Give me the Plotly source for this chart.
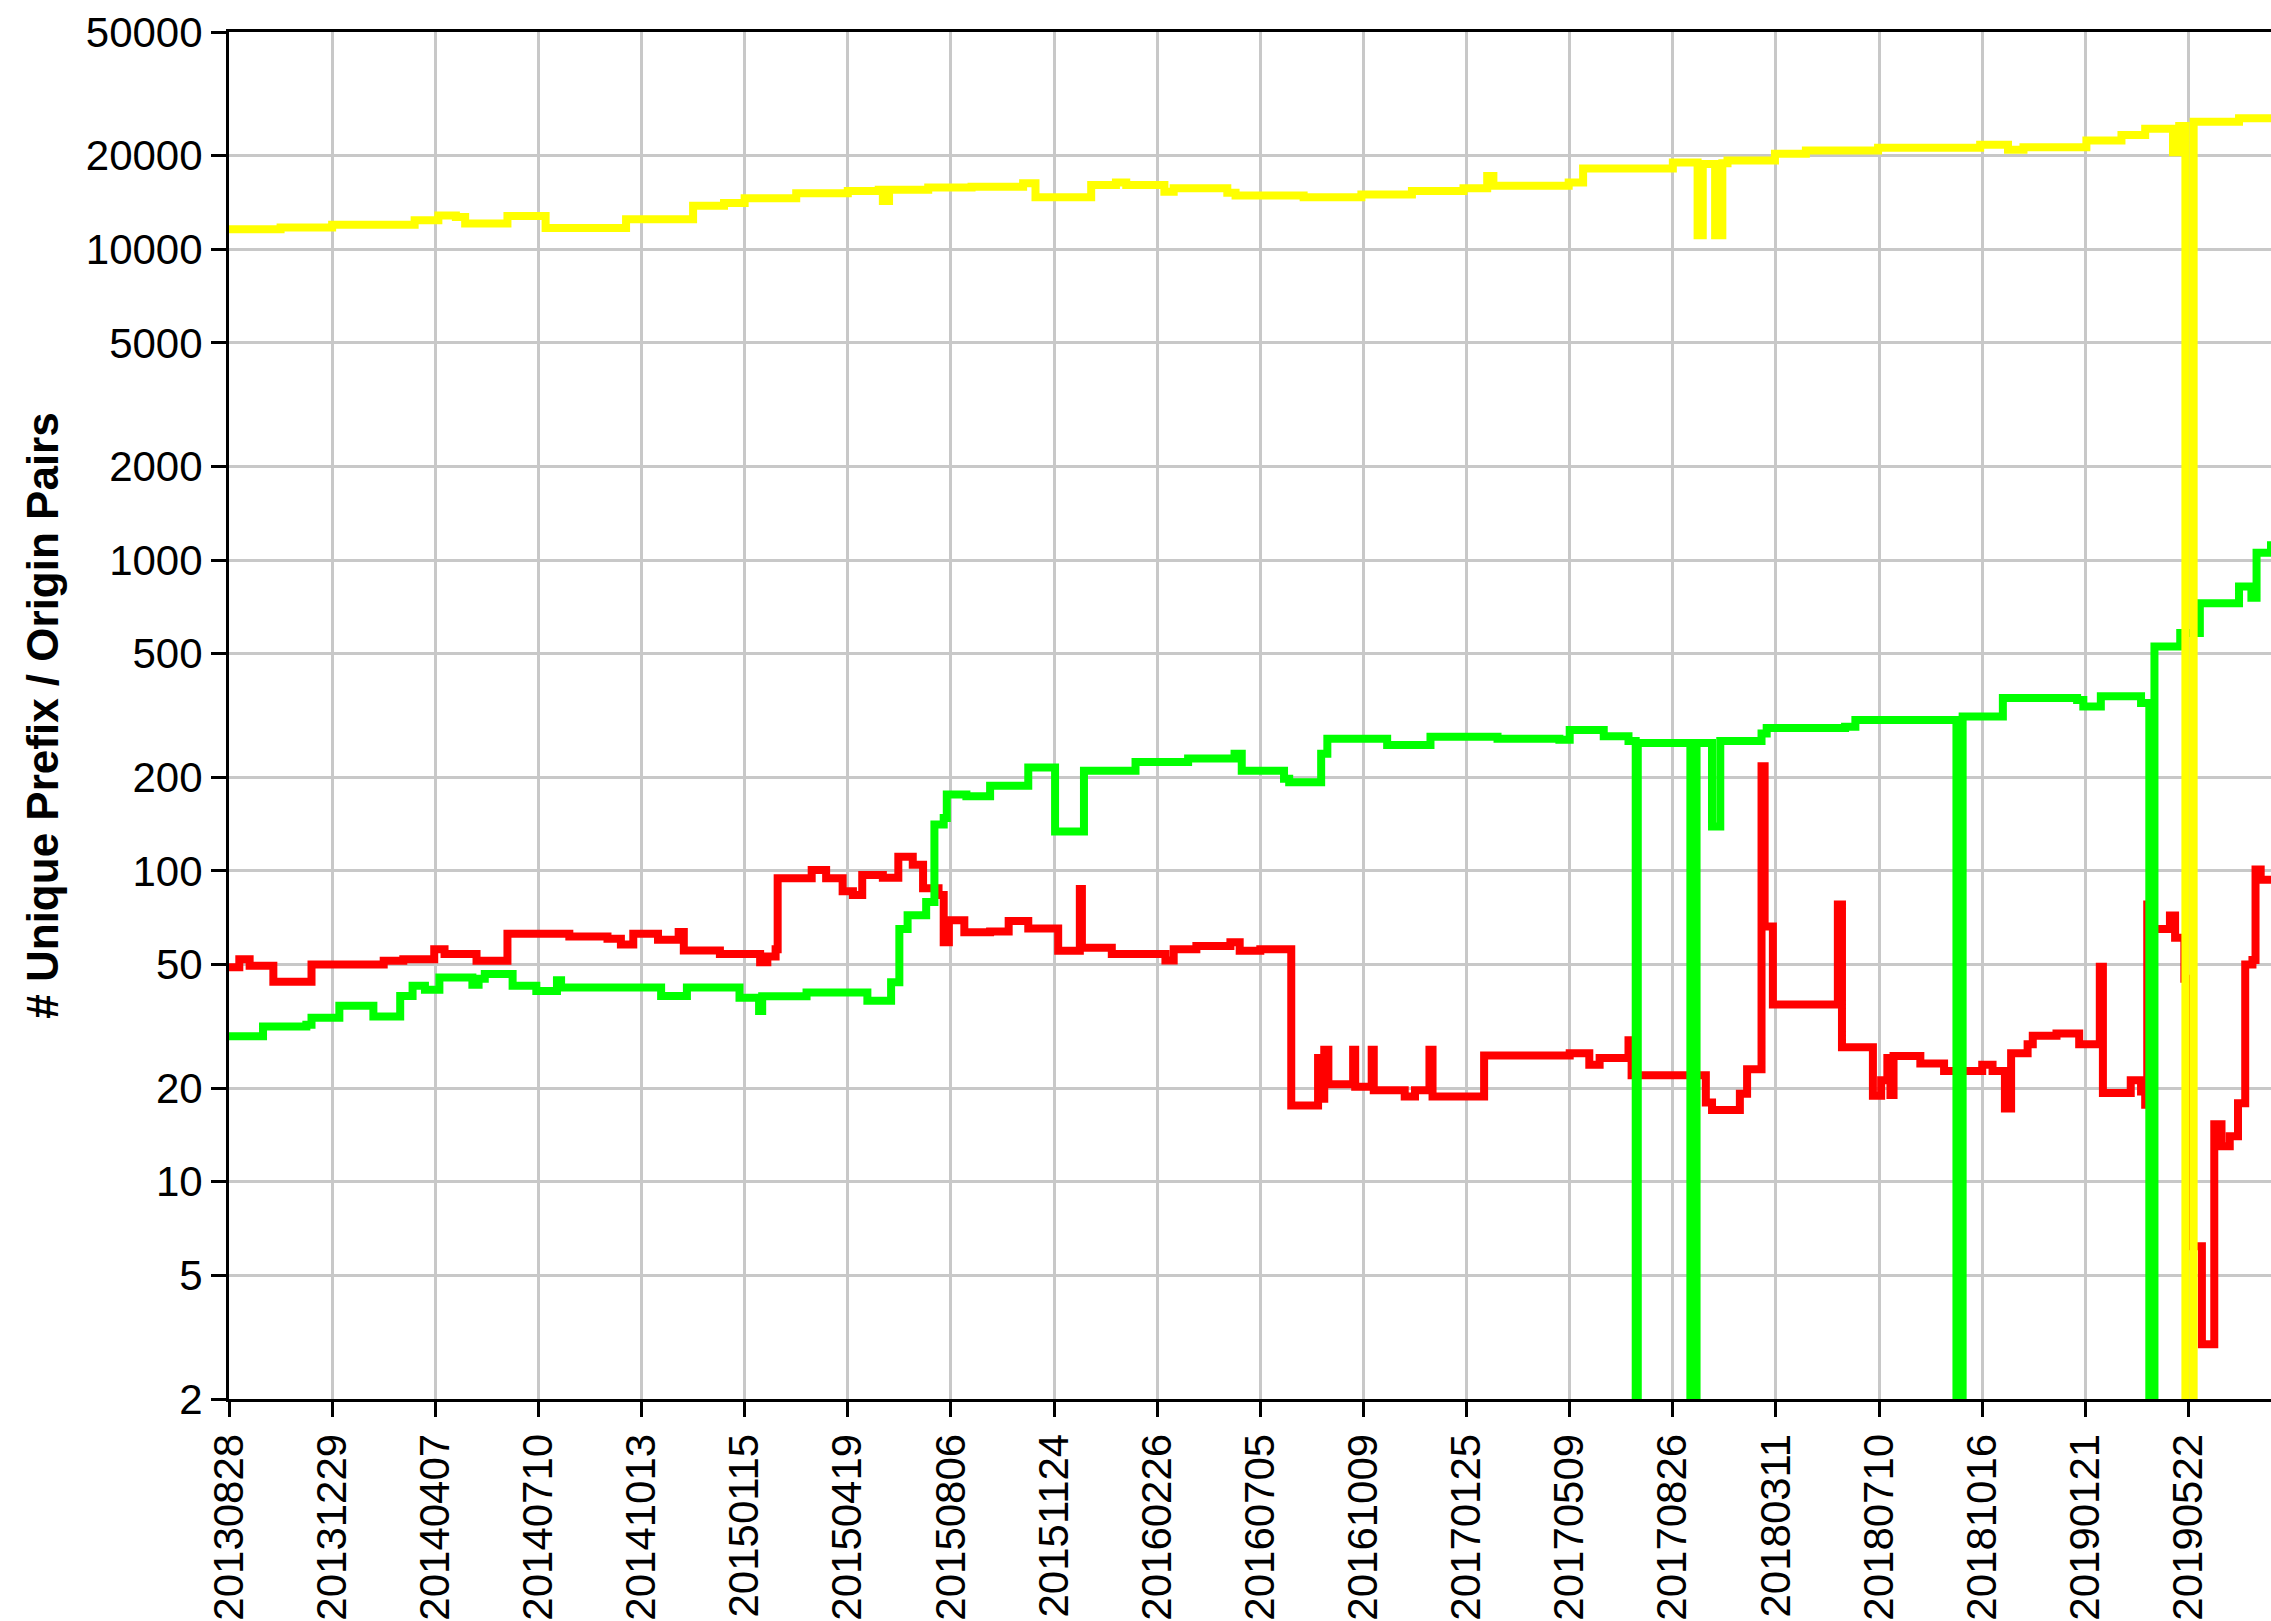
import math

import plotly.graph_objects as go

# x = sample index (one point per daily snapshot), ticks every 100 samples
tick_idx = [0, 100, 200, 300, 400, 500, 600, 700, 800, 900,
            1000, 1100, 1200, 1300, 1400, 1500, 1600, 1700, 1800, 1900]
tick_dates = ["20130828", "20131229", "20140407", "20140710", "20141013",
              "20150115", "20150419", "20150806", "20151124", "20160226",
              "20160705", "20161009", "20170125", "20170509", "20170826",
              "20180311", "20180710", "20181016", "20190121", "20190522"]

y_ticks = [2, 5, 10, 20, 50, 100, 200, 500, 1000, 2000, 5000, 10000, 20000, 50000]

# value 1 = dropped to zero (below the axis floor)
yellow_x = [0, 50, 100, 180, 203, 220, 229, 270, 307, 385, 450, 480, 500, 550,
            600, 630, 634, 640, 678, 720, 770, 782, 836, 860, 870, 907, 916,
            968, 976, 1042, 1098, 1147, 1197, 1220, 1226, 1299, 1313, 1400,
            1424, 1429, 1441, 1448, 1453, 1499, 1529, 1599, 1698, 1725, 1740,
            1801, 1835, 1858, 1885, 1891, 1897, 1905, 1949, 1980]
yellow_y = [11600, 11750, 12000, 12400, 12850, 12700, 12100, 12800, 11700,
            12500, 13800, 14100, 14600, 15150, 15400, 15550, 14300, 15550,
            15800, 15900, 16300, 14700, 16100, 16400, 16100, 15300, 15700,
            15200, 14900, 14700, 15000, 15400, 15700, 17200, 16000, 16400,
            18200, 19000, 11100, 18800, 11100, 18900, 19300, 20300, 20800,
            21200, 21700, 20900, 21300, 22400, 23300, 24400, 20500, 24900,
            1, 25700, 26400, 26800]

green_x = [0, 33, 75, 80, 107, 140, 166, 178, 190, 204, 236, 242, 248, 275,
           298, 318, 322, 419, 444, 495, 514, 517, 560, 619, 642, 650, 658,
           676, 684, 693, 696, 715, 738, 775, 801, 829, 879, 930, 975, 982,
           1023, 1028, 1059, 1065, 1123, 1165, 1230, 1290, 1300, 1333, 1357,
           1364, 1366, 1417, 1423, 1438, 1446, 1486, 1491, 1567, 1577, 1675,
           1681, 1720, 1792, 1798, 1815, 1854, 1862, 1867, 1892, 1911, 1949,
           1961, 1966, 1980]
green_y = [29.4, 31.6, 32, 33.7, 36.8, 34, 39.6, 42.7, 41.5, 45.4, 43, 45,
           46.6, 42.7, 41.1, 44.5, 42.2, 39.6, 42.2, 39.1, 35.4, 39.5, 40.6,
           38.2, 43.8, 65, 72, 79.5, 141, 148, 176, 174, 188, 215, 134, 210,
           224, 230, 238, 210, 198, 193, 238, 266, 254, 270, 266, 264, 284,
           271, 262, 1, 258, 1, 258, 139, 262, 277, 288, 291, 306, 1, 314,
           360, 355, 338, 365, 347, 1, 527, 583, 727, 823, 756, 1056, 1150]

red_x = [0, 10, 20, 43, 80, 150, 169, 199, 209, 240, 270, 330, 367, 380, 392,
         416, 436, 441, 476, 515, 522, 530, 532, 565, 579, 595, 605, 614, 634,
         649, 663, 673, 688, 693, 698, 713, 738, 756, 775, 804, 825, 827, 856,
         908, 916, 938, 971, 980, 1000, 1030, 1056, 1058, 1062, 1066, 1090,
         1092, 1108, 1110, 1140, 1150, 1164, 1167, 1217, 1300, 1319, 1329,
         1357, 1360, 1432, 1438, 1465, 1472, 1486, 1489, 1497, 1560, 1564,
         1594, 1602, 1608, 1611, 1614, 1640, 1663, 1700, 1710, 1722, 1728,
         1744, 1749, 1772, 1794, 1814, 1817, 1844, 1854, 1858, 1860, 1862,
         1882, 1887, 1896, 1902, 1913, 1925, 1932, 1940, 1948, 1955, 1962,
         1965, 1970, 1980]
red_y = [49, 52, 49.5, 44, 50, 51.4, 52, 56, 54, 51.4, 62.8, 61.5, 60.5, 58,
         62.8, 60, 63.6, 55.5, 54, 50.8, 53, 56, 94.7, 100.7, 94.7, 86, 83.6,
         97, 95, 111, 104.6, 88, 83.6, 59, 69.4, 63.5, 63.8, 69, 65.3, 55.4,
         87.5, 56.6, 54, 51.5, 56, 57.3, 59, 55.4, 56, 17.6, 25, 18.5, 26.6,
         20.6, 26.6, 20.2, 26.6, 19.7, 18.8, 19.7, 26.6, 18.8, 25.5, 25.9,
         23.8, 25, 28.5, 22, 18, 17, 19.2, 23, 217, 66.2, 37.2, 78, 27.1,
         18.9, 21.2, 25, 19, 25.4, 24, 22.7, 23.8, 22.7, 17.2, 25.9, 27.7,
         29.5, 30, 27.7, 49.2, 19.3, 21.2, 19.5, 17.7, 78, 65, 71.9, 60.9, 45,
         6.2, 3.0, 15.3, 13, 14, 17.9, 50, 51.7, 101, 93.6, 95]

FONT = "Liberation Sans, Arial, Helvetica, sans-serif"

fig = go.Figure()
# draw order: red under green under yellow
for xs, ys, color in [(red_x, red_y, "#ff0000"),
                      (green_x, green_y, "#00ff00"),
                      (yellow_x, yellow_y, "#ffff00")]:
    fig.add_trace(go.Scatter(x=xs, y=ys, mode="lines", line_shape="hv",
                             line=dict(color=color, width=8),
                             hoverinfo="skip"))

axis_common = dict(
    showline=True, linecolor="black", linewidth=3,
    ticks="outside", ticklen=15, tickwidth=3, tickcolor="black",
    showgrid=True, gridcolor="#c8c8c8", gridwidth=2.5,
    zeroline=False, automargin=False,
    tickfont=dict(family=FONT, size=42, color="black"),
)

fig.update_xaxes(
    range=[0, 1980], tickvals=tick_idx, ticktext=tick_dates,
    tickangle=-90, mirror=True, **axis_common,
)
fig.update_yaxes(
    type="log", range=[math.log10(2), math.log10(50000)],
    tickvals=y_ticks, ticktext=[str(v) for v in y_ticks],
    title=dict(text="# Unique Prefix / Origin Pairs", standoff=14,
               font=dict(family=FONT, size=44, color="black", weight="bold")),
    **axis_common,
)

fig.update_layout(
    width=2271, height=1621,
    margin=dict(l=229, r=0, t=32, b=222, pad=0),
    plot_bgcolor="white", paper_bgcolor="white",
    showlegend=False,
)

fig.write_html("out.html", config={"displayModeBar": False},
               post_script="document.body.style.margin='0';")
